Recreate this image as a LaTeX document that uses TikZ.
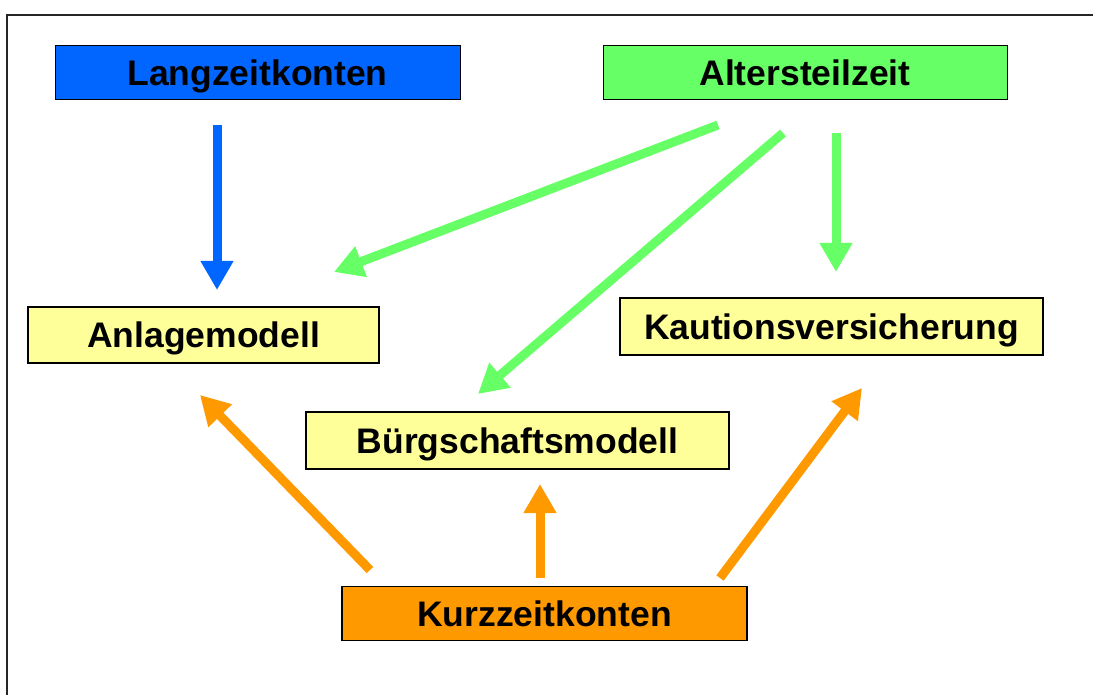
\documentclass[tikz,border=0pt]{standalone}
\usepackage{fontspec}
\setmainfont{Liberation Sans}
\usetikzlibrary{arrows.meta}
\definecolor{langblue}{RGB}{0,102,255}
\definecolor{altgreen}{RGB}{102,255,102}
\definecolor{modyellow}{RGB}{255,255,153}
\definecolor{kurzorange}{RGB}{255,153,0}
\tikzset{
  box/.style={rectangle,draw=black,inner sep=0pt,text height=25.5pt,text depth=0pt,font=\fontsize{35.5}{42}\selectfont\bfseries},
  topbox/.style={box,line width=1pt},
  modbox/.style={box,fill=modyellow,line width=2.5pt},
  flow/.style={line width=9pt,-{Triangle[width=31pt,length=29pt]}}
}
\begin{document}
\begin{tikzpicture}[x=1pt,y=-1pt]
                \clip (0,0) rectangle (1093,695);
                \fill[white] (0,0) rectangle (1093,695);
                \draw[line width=1.5pt,black!85] (7,15) rectangle (1120,720);

                \node[topbox,fill=langblue,minimum width=405pt,minimum height=54pt] (lang) at (257.5,73) {Langzeitkonten};
                \node[topbox,fill=altgreen,minimum width=404pt,minimum height=54pt] (alt) at (805,73) {Altersteilzeit};
                \node[modbox,minimum width=351pt,minimum height=56pt] (anl) at (203.5,335) {Anlagemodell};
                \node[modbox,minimum width=423pt,minimum height=57pt] (kaut) at (831.5,326.5) {Kautionsversicherung};
                \node[modbox,minimum width=423pt,minimum height=57pt] (buerg) at (517.5,440.5) {B\"urgschaftsmodell};
                \node[box,fill=kurzorange,line width=1.5pt,minimum width=405pt,minimum height=54pt] (kurz) at (544.5,613.5) {Kurzzeitkonten};

                \coordinate (L1) at (217,125);
                \coordinate (L2) at (217,290);

                \coordinate (A1) at (718,125);
                \coordinate (A2) at (334,272);
                \coordinate (A3) at (783,133);
                \coordinate (A4) at (478,394);
                \coordinate (A5) at (836,133);
                \coordinate (A6) at (836,272);

                \coordinate (K1) at (370,570);
                \coordinate (K2) at (200,395);
                \coordinate (K3) at (540,578);
                \coordinate (K4) at (540,484);
                \coordinate (K5) at (720,578);
                \coordinate (K6) at (862,388);

                \draw[flow,langblue] (L1) -- (L2);

                \draw[flow,altgreen] (A1) -- (A2);
                \draw[flow,altgreen] (A3) -- (A4);
                \draw[flow,altgreen] (A5) -- (A6);

                \draw[flow,kurzorange] (K1) -- (K2);
                \draw[flow,kurzorange] (K3) -- (K4);
                \draw[flow,kurzorange] (K5) -- (K6);
            \end{tikzpicture}
\end{document}
